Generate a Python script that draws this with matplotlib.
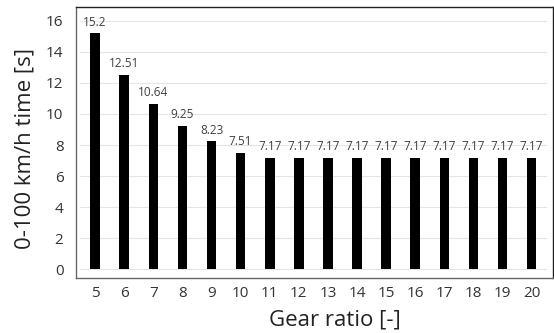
import matplotlib
matplotlib.use("Agg")
import matplotlib.pyplot as plt

gear_ratio = [5, 6, 7, 8, 9, 10, 11, 12, 13, 14, 15, 16, 17, 18, 19, 20]
accel_time = [15.2, 12.51, 10.64, 9.25, 8.23, 7.51, 7.17, 7.17, 7.17, 7.17,
              7.17, 7.17, 7.17, 7.17, 7.17, 7.17]
y_ticks = [0, 2, 4, 6, 8, 10, 12, 14, 16]

plt.rcParams['font.family'] = ['Open Sans', 'DejaVu Sans']

fig = plt.figure(figsize=(5.54, 3.33), dpi=100)
ax = fig.add_axes([0.137, 0.165, 0.861, 0.814])

# gridlines only inside the plot area, like an Excel chart
for t in y_ticks:
    ax.plot([4.47, 20.49], [t, t], color='#e4e4e4', lw=0.8, zorder=0)

ax.bar(gear_ratio, accel_time, width=0.33, color='black', zorder=2)

for x, v in zip(gear_ratio, accel_time):
    ax.text(x, v + 0.3, f"{v:g}", ha='center', va='bottom',
            fontsize=8.5, color='#404040')

ax.set_xlim(4.34, 20.73)
ax.set_ylim(-0.58, 16.9)
ax.set_xticks(gear_ratio)
ax.set_yticks(y_ticks)
ax.tick_params(length=0, labelsize=11, colors='#333333')
ax.tick_params(axis='y', pad=9)
ax.tick_params(axis='x', pad=6)
for s in ax.spines.values():
    s.set_color('#222222')
    s.set_linewidth(1.0)
ax.spines['left'].set_color('#666666')
ax.spines['bottom'].set_color('#666666')

fig.text(0.045, 0.553, '0-100 km/h time [s]', rotation=90, ha='center',
         va='center', fontsize=16, color='#222222')
fig.text(0.604, 0.04, 'Gear ratio [-]', ha='center', va='center',
         fontsize=16, color='#222222')

fig.savefig('out.png', dpi=100)
